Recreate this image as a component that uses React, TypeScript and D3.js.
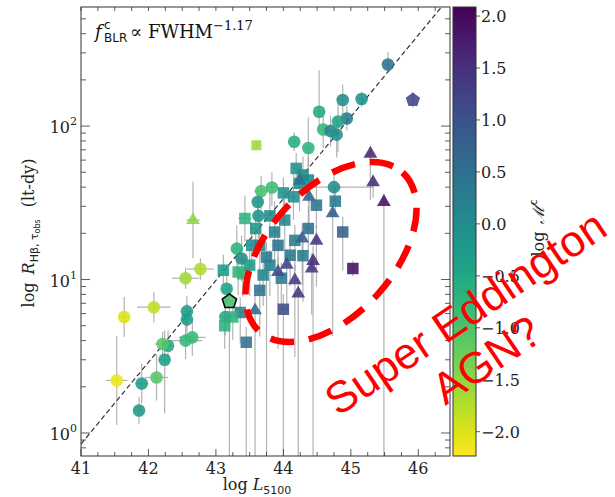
import React from 'react';
import * as d3 from 'd3';

// ---- data ----
// shape: c = circle, s = square, t = triangle, p = pentagon, P = pentagon with black edge
const shapes = [
  'c','c','c','c','c','c','c','c','c','c','c','c','c','c','c','c','c','c','c','c','c','c','c','c','c','c','c','c','c','c','c','c','c','c','c',
  's','s','s','s','s','s','s','s','s','s','s','s','s','s','s','s','s','s','s','s','s','s','s','s','s','s','s','s','s','s','s','s','s','s','s','s','s',
  't','t','t','t','t','t','t','t','t','t','t','t','t','t','t','t',
  'p','P',
];
const logL5100 = [
  41.64,42.08,42.55,42.77,41.53,42.12,41.90,41.86,42.24,42.29,42.21,42.57,42.57,42.55,42.65,43.16,43.14,45.55,44.88,45.16,44.53,44.94,44.81,44.59,44.70,44.79,44.16,44.37,44.75,43.67,43.83,43.63,43.62,43.31,43.38,
  43.60,44.19,44.29,44.37,44.24,44.00,44.15,44.77,44.49,44.37,44.88,44.29,45.03,44.00,43.45,43.65,43.97,43.36,43.13,43.25,43.11,43.33,43.40,43.43,43.53,43.65,43.75,43.87,44.02,43.80,44.10,44.17,43.50,43.59,43.80,43.92,43.70,
  42.66,45.29,45.33,45.49,44.38,44.73,44.28,44.49,44.44,44.42,44.22,44.17,43.92,43.58,44.24,44.05,
  45.92,43.20,
];
const rHbeta = [
  5.7,6.6,10.2,11.7,2.2,2.3,2.1,1.4,3.0,3.7,3.8,6.2,5.5,4.0,4.2,8.7,5.7,252,148,150,124,112,107,95,93,88,79,72,40,37.7,39.8,26,32,15.9,13.7,
  75,53,48,44.5,42.3,36.7,34.6,32.4,30.5,21.5,20.4,14.3,11.8,6.4,3.9,8.5,10.2,6.1,5.0,5.7,11.5,11.2,10.9,25.0,16.7,16.7,14.0,20.4,24.4,12.4,14.4,18.0,12.4,21.5,26,16.7,10.7,
  24.4,66,43,32,34.6,27,18.5,17.9,13.2,11.8,8.1,9.9,11.2,6.3,44,12.5,
  148,7.2,
];
const logMdot = [
  -2.0,-1.8,-1.6,-1.7,-2.1,-1.1,-0.3,-0.2,-0.3,-0.5,-1.1,-0.3,-0.3,-0.8,-0.8,-0.4,-0.5,0.5,0.0,-0.1,-0.5,0.3,-0.4,-0.8,0.1,-0.1,-0.6,-0.7,0.0,-1.0,-0.9,-0.1,-0.2,-0.7,0.0,
  -1.6,-0.1,0.0,0.1,-0.1,-0.1,0.0,0.3,0.4,0.5,0.8,0.3,1.9,1.1,0.4,0.4,0.3,0.2,-0.7,-0.7,-0.3,-0.7,-0.8,-0.7,0.0,0.1,0.3,0.2,0.1,0.2,0.3,0.2,-0.3,-0.2,0.0,0.5,0.1,
  -1.5,1.6,1.5,1.9,0.7,0.8,0.8,1.4,1.5,1.4,1.4,1.3,1.1,0.6,0.5,1.2,
  1.2,-1.0,
];
// errors in dex
const errLo = [
  .13,.1,.07,.07,.29,.15,.13,.09,.35,.1,.08,.1,.1,.12,.12,.1,.12,.05,.1,.05,.13,.08,.2,.12,.1,.15,.06,.12,.12,.12,.12,.15,.1,.15,.15,
  .03,.1,.12,.15,.1,.2,.15,.1,.15,.15,.25,.3,.05,3,3,.3,.2,.2,.15,.15,.1,.15,.15,.15,.15,.15,3,.2,.2,.2,.2,.2,.2,.15,.15,.2,.2,
  .25,.3,.1,3,.2,.8,.3,.3,3,.3,3,.5,.5,3,.2,.3,
  .05,3,
];
const errHi = [
  .13,.1,.07,.07,.29,.15,.13,.09,.19,.1,.08,.1,.1,.12,.12,.1,.12,.08,.1,.05,.27,.08,.15,.12,.1,.1,.06,.2,.12,.1,.1,.15,.1,.15,.15,
  .03,.1,.12,.15,.1,.1,.15,.1,.15,.15,.1,.1,.05,.1,.1,.15,.1,.1,.1,.1,.1,.1,.1,.15,.15,.15,.1,.2,.2,.1,.1,.1,.1,.1,.15,.1,.1,
  .25,.05,.05,.05,.1,.1,.1,.1,.1,.1,.1,.1,.1,.1,.1,.1,
  .05,.1,
];
const errL = [
  .05,.25,.2,.2,.16,.17,.1,.05,.08,.08,.12,.05,.05,.25,.2,.05,.05,.03,.05,.05,.05,.05,.05,.05,.12,.05,.05,.05,.58,.1,.08,.05,.05,.05,.05,
  .03,.05,.05,.05,.05,.05,.05,.05,.05,.05,.05,.05,.05,.05,.05,.05,.05,.05,.05,.05,.05,.05,.05,.1,.05,.05,.05,.05,.05,.05,.05,.05,.05,.05,.05,.05,.05,
  .1,.03,.03,.03,.05,.05,.05,.05,.05,.05,.05,.05,.05,.05,.05,.05,
  .03,.05,
];

const xTicks = [41, 42, 43, 44, 45, 46];
const yTickExps = [0, 1, 2];
const cbTicks = [-2.0, -1.5, -1.0, -0.5, 0.0, 0.5, 1.0, 1.5, 2.0];
// R-L relation (dashed): log R = K + alpha (log L - 44)
const rlK = 1.527;
const rlAlpha = 0.533;

const W = 615, H = 497;
const PL = 81, PR = 450, PT = 7, PB = 456;
const CB = { x0: 453, x1: 476 };
const CMIN = -2.234, CMAX = 2.087;
const SERIF = '"DejaVu Serif", serif';
const SANS = '"DejaVu Sans", sans-serif';

export default function App() {
  const x = d3.scaleLinear().domain([41, 46.47]).range([PL, PR]);
  const y = d3.scaleLog().domain([Math.pow(10, -0.15), Math.pow(10, 2.776)]).range([PB, PT]);
  const cb = d3.scaleLinear().domain([CMIN, CMAX]).range([PB, PT]);
  const color = (v: number) => d3.interpolateViridis((CMAX - v) / (CMAX - CMIN));

  const circle = d3.symbol().type(d3.symbolCircle).size(125)()!;
  const square = d3.symbol().type(d3.symbolSquare).size(132)()!;
  const smallSquare = d3.symbol().type(d3.symbolSquare).size(100)()!;
  const triangle = d3.symbol().type(d3.symbolTriangle).size(82)()!;
  const pent = (r: number) => {
    const pts = d3.range(5).map(k => {
      const a = -Math.PI / 2 + k * 2 * Math.PI / 5;
      return [r * Math.cos(a), r * Math.sin(a)];
    });
    return 'M' + pts.map(p => p.join(',')).join('L') + 'Z';
  };

  const pts = shapes.map((s, i) => ({
    s, L: logL5100[i], R: rHbeta[i], c: logMdot[i],
    lo: errLo[i], hi: errHi[i], el: errL[i], i,
  }));

  // minor ticks
  const xMinor = d3.range(41, 46.47, 0.25).filter(v => Math.abs(v - Math.round(v)) > 1e-6);
  const xAll = d3.range(41, 46.47, 0.25);
  const yMinor: number[] = [];
  for (let e = -1; e <= 2; e++) for (let k = 2; k <= 9; k++) {
    const v = k * Math.pow(10, e);
    if (v >= Math.pow(10, -0.15) && v <= Math.pow(10, 2.776)) yMinor.push(v);
  }

  const lineL0 = 41, lineL1 = 46.47;
  const lineD = `M${x(lineL0)},${y(Math.pow(10, rlK + rlAlpha * (lineL0 - 44)))}L${x(lineL1)},${y(Math.pow(10, rlK + rlAlpha * (lineL1 - 44)))}`;

  const gradStops = d3.range(0, 1.0001, 0.05).map(t => ({ t, c: color(CMIN + t * (CMAX - CMIN)) }));

  return (
    <svg width={W} height={H} style={{ position: 'absolute', left: 0, top: 0, background: '#fff' }}
      fontFamily={SERIF}>
      <defs>
        <clipPath id="plotclip"><rect x={PL} y={PT} width={PR - PL} height={PB - PT} /></clipPath>
        <linearGradient id="cbgrad" x1="0" y1="1" x2="0" y2="0">
          {gradStops.map(g => <stop key={g.t} offset={g.t} stopColor={g.c} />)}
        </linearGradient>
      </defs>
      <rect x={0} y={0} width={W} height={H} fill="#fff" />

      <g clipPath="url(#plotclip)">
        {/* error bars */}
        {pts.map(p => {
          const cx = x(p.L), cy = y(p.R);
          const yLo = y(p.R * Math.pow(10, -p.lo));
          const yHi = y(p.R * Math.pow(10, p.hi));
          return (
            <g key={'e' + p.i} stroke="#9a9a9a" strokeOpacity={0.75} strokeWidth={1.2}>
              <line x1={cx} x2={cx} y1={yHi} y2={yLo} />
              <line x1={x(p.L - p.el)} x2={x(p.L + p.el)} y1={cy} y2={cy} />
            </g>
          );
        })}
        {/* R-L relation */}
        <path d={lineD} stroke="#333" strokeWidth={1.2} strokeDasharray="5,3" fill="none" />
        {/* markers */}
        {pts.map(p => {
          const cx = x(p.L), cy = y(p.R);
          const d = p.s === 'c' ? circle : p.s === 's' ? (p.i === 35 ? smallSquare : square)
            : p.s === 't' ? triangle : pent(7.5);
          return (
            <path key={'m' + p.i} d={d} transform={`translate(${cx},${cy})`} fill={color(p.c)}
              fillOpacity={0.88} stroke={p.s === 'P' ? '#000' : 'none'} strokeWidth={p.s === 'P' ? 1.5 : 0} />
          );
        })}
      </g>

      {/* frame and ticks */}
      <rect x={PL} y={PT} width={PR - PL} height={PB - PT} fill="none" stroke="#333" strokeWidth={1} />
      <g stroke="#333" strokeWidth={0.8}>
        {xTicks.map(v => <line key={'xb' + v} x1={x(v)} x2={x(v)} y1={PB} y2={PB - 7} />)}
        {xMinor.map(v => <line key={'xbm' + v} x1={x(v)} x2={x(v)} y1={PB} y2={PB - 4} />)}
        {xAll.map(v => <line key={'xt' + v} x1={x(v)} x2={x(v)} y1={PT} y2={PT + 4} />)}
        {yTickExps.map(e => {
          const yy = y(Math.pow(10, e));
          return <g key={'ym' + e}>
            <line x1={PL} x2={PL + 9} y1={yy} y2={yy} />
            <line x1={PR} x2={PR - 9} y1={yy} y2={yy} />
          </g>;
        })}
        {yMinor.map(v => {
          const yy = y(v);
          return <g key={'yn' + v}>
            <line x1={PL} x2={PL + 5} y1={yy} y2={yy} />
            <line x1={PR} x2={PR - 5} y1={yy} y2={yy} />
          </g>;
        })}
      </g>
      {xTicks.map(v => (
        <text key={'xl' + v} x={x(v)} y={474} textAnchor="middle" fontSize={16} fill="#222">{v}</text>
      ))}
      {yTickExps.map(e => (
        <text key={'yl' + e} x={77} y={y(Math.pow(10, e)) + 7} textAnchor="end" fontSize={16} fill="#222">
          10<tspan dy={-8} fontSize={11}>{e}</tspan>
        </text>
      ))}

      {/* axis labels */}
      <text x={257} y={490} textAnchor="middle" fontSize={16} fill="#222">
        log <tspan fontStyle="italic">L</tspan><tspan dy={4} fontSize={11} fontFamily={SANS}>5100</tspan>
      </text>
      <text transform="translate(34,233) rotate(-90)" textAnchor="middle" fontSize={16} fill="#222">
        log<tspan dx={8} fontStyle="italic">R</tspan>
        <tspan dy={4} fontSize={11} fontFamily={SANS}>Hβ, τ</tspan>
        <tspan dy={2} fontSize={8} fontFamily={SANS}>obs</tspan>
        <tspan dy={-6} dx={12} fontSize={16}>(lt-dy)</tspan>
      </text>

      {/* annotation */}
      <text x={95} y={38} fontSize={18} fill="#111" fontStyle="italic">f</text>
      <text x={104} y={29} fontSize={12} fill="#111" fontFamily={SANS}>c</text>
      <text x={104} y={42} fontSize={12} fill="#111" fontFamily={SANS}>BLR</text>
      <text x={130} y={38} fontSize={18} fill="#111">∝ FWHM</text>
      <text x={213} y={30} fontSize={13} fill="#111">−1.17</text>

      {/* colorbar */}
      <rect x={CB.x0} y={PT} width={CB.x1 - CB.x0} height={PB - PT} fill="url(#cbgrad)" stroke="#333" strokeWidth={1} />
      {cbTicks.map(v => (
        <g key={'cb' + v}>
          <line x1={CB.x1} x2={CB.x1 + 4} y1={cb(v)} y2={cb(v)} stroke="#333" strokeWidth={0.8} />
          <text x={481} y={cb(v) + 6} fontSize={16} fill="#222">{v < 0 ? '−' + Math.abs(v).toFixed(1) : v.toFixed(1)}</text>
        </g>
      ))}
      <text transform="translate(544,228) rotate(-90)" textAnchor="middle" fontSize={16} fill="#222">
        log<tspan dx={8} fontStyle="italic">ℳ̇</tspan><tspan dy={-7} fontSize={11} fontFamily={SANS}>c</tspan>
      </text>

      {/* red overlay */}
      <ellipse cx={0} cy={0} rx={107} ry={63} transform="translate(331,252) rotate(-48)"
        fill="none" stroke="#ff0000" strokeWidth={6.5} strokeDasharray="24,15" />
      <g transform="translate(465,312) rotate(-34)" fill="#ff0000" fontFamily='"Liberation Sans", Arial, sans-serif' fontSize={44}>
        <text x={0} y={16} textAnchor="middle">Super Eddington</text>
        <text x={-9} y={67} textAnchor="middle">AGN?</text>
      </g>
    </svg>
  );
}
